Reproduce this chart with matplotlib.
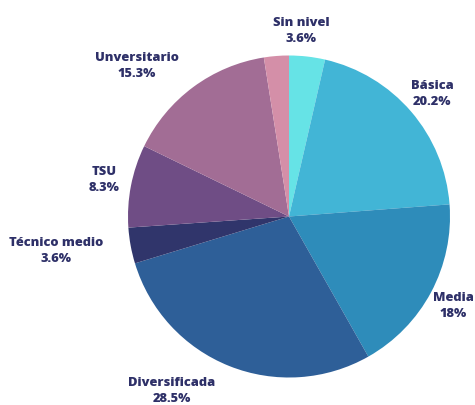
import matplotlib
matplotlib.use("Agg")
import matplotlib.pyplot as plt

categories = ["Sin nivel", "Básica", "Media", "Diversificada", "Técnico medio", "TSU", "Unversitario", ""]
values = [3.6, 20.2, 18.0, 28.5, 3.6, 8.3, 15.3, 2.5]
pct_labels = ["3.6%", "20.2%", "18%", "28.5%", "3.6%", "8.3%", "15.3%", ""]
colors = ["#66e3e6", "#42b5d6", "#2e8cba", "#2e5f98", "#30356b", "#6f4d85", "#a26d95", "#d48fa8"]

# label positions (pixel coordinates, center of two-line text block)
label_pos = [(301, 31), (432, 94), (453, 306), (172, 391), (56, 251), (104, 180), (137, 66), None]

fig = plt.figure(figsize=(4.75, 4.05), dpi=100)
ax = fig.add_axes([0, 0, 1, 1])

# y axis is inverted (pixel-like coordinates), so startangle=-90 is the top
# and counterclock=True runs visually clockwise
ax.pie(values, colors=colors, startangle=-90, counterclock=True,
       center=(289, 216.5), radius=161, frame=True,
       wedgeprops=dict(linewidth=0))
ax.set_xlim(0, 475)
ax.set_ylim(405, 0)
ax.set_aspect("equal")
ax.axis("off")

for cat, pct, pos in zip(categories, pct_labels, label_pos):
    if pos is None:
        continue
    ax.text(pos[0], pos[1], f"{cat}\n{pct}", ha="center", va="center",
            fontsize=9.3, fontweight="heavy", family=["Open Sans", "DejaVu Sans"],
            color="#2e3068", linespacing=1.5)

fig.savefig("out.png", dpi=100)
